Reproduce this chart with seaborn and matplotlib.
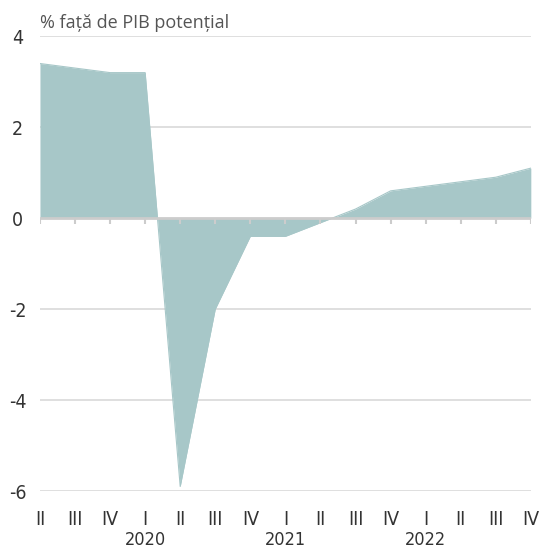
import numpy as np
import pandas as pd
import matplotlib
matplotlib.use('Agg')
import matplotlib.pyplot as plt
import matplotlib.transforms as mtransforms
import seaborn as sns

# Quarterly data, 2019 Q2 - 2022 Q4
quarters = ['II', 'III', 'IV', 'I', 'II', 'III', 'IV', 'I', 'II', 'III', 'IV', 'I', 'II', 'III', 'IV']
values = [3.4, 3.3, 3.2, 3.2, -5.9, -2.0, -0.4, -0.4, -0.1, 0.2, 0.6, 0.7, 0.8, 0.9, 1.1]
years = ['2020', '2021', '2022']
year_pos = [3, 7, 11]
y_ticks = [4, 2, 0, -2, -4, -6]

fill_color = '#a7c7c8'
grid_color = '#dcdcdc'
text_color = '#333333'

sns.set_style('white')
plt.rcParams['font.family'] = ['DejaVu Sans']
plt.rcParams['font.stretch'] = 'condensed'

df = pd.DataFrame({'idx': np.arange(len(values)), 'val': values})

fig = plt.figure(figsize=(5.4, 5.49), dpi=100)
ax = fig.add_axes([0.074, 0.1056, 0.909, 0.8284])

# horizontal grid
for t in y_ticks:
    if t != 0:
        ax.axhline(t, color=grid_color, lw=1.3, zorder=0)

ax.fill_between(df['idx'], df['val'], 0, color=fill_color, lw=0, zorder=2)
sns.lineplot(data=df, x='idx', y='val', color=fill_color, lw=0.8, ax=ax, zorder=2)

# zero line with small ticks
ax.axhline(0, color='#cccccc', lw=2, zorder=3)
ax.vlines(df['idx'], -0.13, 0, color='#cccccc', lw=1.5, zorder=3)

ax.set_xlim(0, len(values) - 1)
ax.set_ylim(-6, 4)
ax.set_yticks(y_ticks)
ax.set_yticklabels([str(t) for t in y_ticks])
ax.set_xticks(df['idx'])
ax.set_xticklabels(quarters)
ax.tick_params(axis='both', length=0, labelsize=14, colors=text_color)
ax.tick_params(axis='x', pad=14)
ax.tick_params(axis='y', pad=16)
for lbl in ax.get_yticklabels():
    lbl.set_horizontalalignment('center')
ax.set_xlabel('')
ax.set_ylabel('')
for s in ax.spines.values():
    s.set_visible(False)

trans = mtransforms.blended_transform_factory(ax.transData, ax.transAxes)
for p, yr in zip(year_pos, years):
    ax.text(p, -0.108, yr, transform=trans, ha='center', va='center',
            fontsize=13, color=text_color)

fig.text(0.074, 0.958, '% față de PIB potențial', ha='left', va='center',
         fontsize=13, color='#555555', family=['Open Sans', 'DejaVu Sans'],
         fontstretch='normal')

fig.savefig('out.png', dpi=100)
